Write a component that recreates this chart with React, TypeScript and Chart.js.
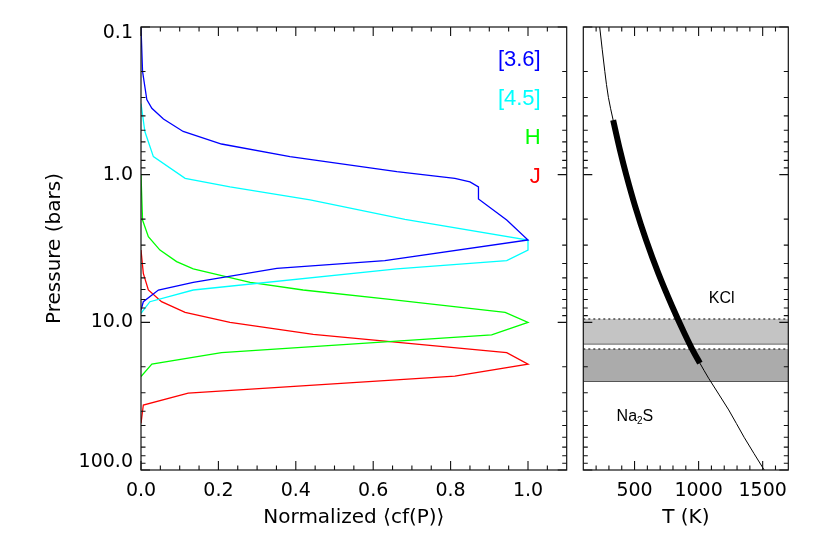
import React, { useEffect, useRef } from 'react';
import { Chart, registerables } from 'chart.js';

Chart.register(...registerables);

const AXIS_FONT = "'DejaVu Sans', Verdana, sans-serif";
const LABEL_FONT = "'Liberation Sans', Arial, Helvetica, sans-serif";

// ---------- Left panel: normalized contribution functions ----------
const bandNames = ['[3.6]', '[4.5]', 'H', 'J'];
const bandColors = ['#0000ff', '#00ffff', '#00ff00', '#ff0000'];

const pressure36 = [0.1, 0.2, 0.31, 0.355, 0.42, 0.51, 0.62, 0.755, 0.955, 1.06, 1.12, 1.21, 1.46, 2.03, 2.77, 3.82, 4.31, 5.36, 6.04, 7.25, 8.25];
const cf36 = [0.0, 0.004, 0.015, 0.028, 0.058, 0.109, 0.208, 0.385, 0.661, 0.811, 0.85, 0.872, 0.872, 0.945, 1.0, 0.63, 0.351, 0.135, 0.045, 0.006, 0.0];

const pressure45 = [0.33, 0.51, 0.755, 1.06, 1.21, 1.48, 2.01, 2.77, 3.24, 3.82, 4.35, 6.04, 7.25, 8.69];
const cf45 = [0.0, 0.01, 0.032, 0.114, 0.23, 0.437, 0.682, 1.0, 1.0, 0.945, 0.661, 0.135, 0.023, 0.0];

const pressureH = [1.0, 2.03, 2.63, 3.24, 3.88, 4.35, 5.36, 6.04, 6.98, 8.55, 10.0, 12.18, 16.06, 19.2, 23.3];
const cfH = [0.0, 0.004, 0.019, 0.049, 0.092, 0.135, 0.282, 0.419, 0.643, 0.941, 1.0, 0.906, 0.208, 0.028, 0.0];

const pressureJ = [3.24, 4.66, 6.04, 7.25, 8.55, 10.0, 12.05, 16.06, 19.2, 23.1, 30.2, 36.3, 48.3];
const cfJ = [0.0, 0.006, 0.019, 0.053, 0.114, 0.23, 0.445, 0.945, 1.0, 0.811, 0.122, 0.006, 0.0];

const bandPressures = [pressure36, pressure45, pressureH, pressureJ];
const bandCf = [cf36, cf45, cfH, cfJ];

// ---------- Right panel: T-P profile and clouds ----------
const profilePressure = [0.1, 0.2, 0.3, 0.427, 0.68, 1.0, 1.65, 2.77, 4.66, 7.84, 11.9, 15.8, 18.9, 23.9, 39.2, 60, 100];
const profileTemperature = [228, 268, 296, 333, 386, 435, 506, 590, 686, 795, 890, 960, 1010, 1078, 1235, 1355, 1512];
const photosphereRange = [0.427, 18.9];

const cloudNames = ['KCl', 'Na2S'];
const cloudTopPressure = [9.49, 15.15];
const cloudBasePressure = [13.95, 25.1];
const cloudFills = ['#c4c4c4', '#ababab'];
const cloudLabelTemperature = [1180, 503];
const cloudLabelPressure = [6.95, 43.5];

// ---------- Axes ----------
const cfRange = [0, 1.1];
const pressureRange = [0.1, 100];
const temperatureRange = [100, 1700];
const cfMajorTicks = [0, 0.2, 0.4, 0.6, 0.8, 1.0];
const cfMinorTicks = [0.05, 0.1, 0.15, 0.25, 0.3, 0.35, 0.45, 0.5, 0.55, 0.65, 0.7, 0.75, 0.85, 0.9, 0.95, 1.05];
const pressureMajorTicks = [0.1, 1, 10, 100];
const pressureTickLabels = ['0.1', '1.0', '10.0', '100.0'];
const pressureMinorTicks = [0.2, 0.3, 0.4, 0.5, 0.6, 0.7, 0.8, 0.9, 2, 3, 4, 5, 6, 7, 8, 9, 20, 30, 40, 50, 60, 70, 80, 90];
const temperatureMajorTicks = [500, 1000, 1500];
const temperatureMinorTicks = [200, 300, 400, 600, 700, 800, 900, 1100, 1200, 1300, 1400, 1600];

function makeFrameTicks(xMajor: number[], xMinor: number[], yMajor: number[], yMinor: number[]) {
  return {
    id: 'frameTicks',
    afterDatasetsDraw(chart: any) {
      const { ctx, chartArea: a, scales } = chart;
      const xs = scales.x;
      const ys = scales.y;
      ctx.save();
      ctx.strokeStyle = '#111';
      ctx.lineWidth = 1.1;
      ctx.beginPath();
      const xTick = (v: number, len: number) => {
        const px = xs.getPixelForValue(v);
        ctx.moveTo(px, a.bottom);
        ctx.lineTo(px, a.bottom - len);
        ctx.moveTo(px, a.top);
        ctx.lineTo(px, a.top + len);
      };
      const yTick = (v: number, len: number) => {
        const py = ys.getPixelForValue(v);
        ctx.moveTo(a.left, py);
        ctx.lineTo(a.left + len, py);
        ctx.moveTo(a.right, py);
        ctx.lineTo(a.right - len, py);
      };
      xMajor.forEach((v) => xTick(v, 9));
      xMinor.forEach((v) => xTick(v, 4.5));
      yMajor.forEach((v) => yTick(v, 9));
      yMinor.forEach((v) => yTick(v, 4.5));
      ctx.stroke();
      ctx.lineWidth = 1.2;
      ctx.strokeRect(a.left, a.top, a.right - a.left, a.bottom - a.top);
      ctx.restore();
    },
  };
}

// y tick labels, kept inside the axis span at both ends (IDL style)
const pressureLabels = {
  id: 'pressureLabels',
  afterDraw(chart: any) {
    const { ctx, chartArea: a, scales } = chart;
    ctx.save();
    ctx.font = `19px ${AXIS_FONT}`;
    ctx.fillStyle = '#000';
    ctx.textAlign = 'right';
    ctx.textBaseline = 'middle';
    pressureMajorTicks.forEach((v, i) => {
      const py = scales.y.getPixelForValue(v);
      const y = Math.min(Math.max(py, a.top + 6), a.bottom - 8);
      ctx.fillText(pressureTickLabels[i], a.left - 8, y);
    });
    ctx.restore();
  },
};

const bandLegend = {
  id: 'bandLegend',
  afterDatasetsDraw(chart: any) {
    const { ctx, chartArea: a } = chart;
    ctx.save();
    ctx.font = `22px ${LABEL_FONT}`;
    ctx.textAlign = 'right';
    ctx.textBaseline = 'middle';
    bandNames.forEach((name, i) => {
      ctx.fillStyle = bandColors[i];
      ctx.fillText(name, a.right - 26, a.top + 33 + i * 39);
    });
    ctx.restore();
  },
};

function drawChemLabel(ctx: CanvasRenderingContext2D, text: string, cx: number, cy: number, size: number) {
  const parts = text.match(/\d+|\D+/g) || [];
  const isSub = (s: string) => /^\d+$/.test(s);
  const fontFor = (s: string) => `${isSub(s) ? Math.round(size * 0.62) : size}px ${LABEL_FONT}`;
  let total = 0;
  const widths = parts.map((p) => {
    ctx.font = fontFor(p);
    const w = ctx.measureText(p).width;
    total += w;
    return w;
  });
  let x = cx - total / 2;
  parts.forEach((p, i) => {
    ctx.font = fontFor(p);
    ctx.fillText(p, x, cy + (isSub(p) ? size * 0.3 : 0));
    x += widths[i];
  });
}

const cloudLabels = {
  id: 'cloudLabels',
  afterDatasetsDraw(chart: any) {
    const { ctx, scales } = chart;
    ctx.save();
    ctx.fillStyle = '#000';
    ctx.textAlign = 'left';
    ctx.textBaseline = 'middle';
    cloudNames.forEach((name, i) => {
      const px = scales.x.getPixelForValue(cloudLabelTemperature[i]);
      const py = scales.y.getPixelForValue(cloudLabelPressure[i]);
      drawChemLabel(ctx, name, px, py, 16);
    });
    ctx.restore();
  },
};

const tickFont = { family: AXIS_FONT, size: 19 };
const titleFont = { family: AXIS_FONT, size: 20 };

export default function App() {
  const leftRef = useRef<HTMLCanvasElement>(null);
  const rightRef = useRef<HTMLCanvasElement>(null);

  useEffect(() => {
    const leftDatasets = bandNames.map((name, i) => ({
      label: name,
      data: bandPressures[i].map((p, k) => ({ x: bandCf[i][k], y: p })),
      borderColor: bandColors[i],
      borderWidth: 1.3,
      pointRadius: 0,
      tension: 0,
      fill: false,
    }));

    const left = new Chart(leftRef.current as HTMLCanvasElement, {
      type: 'line',
      data: { datasets: leftDatasets as any },
      options: {
        responsive: false,
        animation: false,
        devicePixelRatio: 1,
        events: [],
        layout: { padding: { left: 0, right: 8.3, top: 27, bottom: 0 } },
        plugins: { legend: { display: false }, tooltip: { enabled: false } },
        scales: {
          x: {
            type: 'linear',
            min: cfRange[0],
            max: cfRange[1],
            grid: { display: false, drawTicks: false },
            border: { display: false },
            afterBuildTicks: (s: any) => {
              s.ticks = cfMajorTicks.map((v) => ({ value: v }));
            },
            ticks: {
              font: tickFont,
              color: '#000',
              padding: 10,
              maxRotation: 0,
              minRotation: 0,
              autoSkip: false,
              callback: (v: any) => Number(v).toFixed(1),
            },
            title: {
              display: true,
              text: 'Normalized \u27E8cf(P)\u27E9',
              font: titleFont,
              color: '#000',
              padding: { top: 0, bottom: 24 },
            },
            afterFit: (s: any) => {
              s.height = 84;
            },
          },
          y: {
            type: 'logarithmic',
            min: pressureRange[0],
            max: pressureRange[1],
            reverse: true,
            grid: { display: false, drawTicks: false },
            border: { display: false },
            ticks: { display: false },
            title: {
              display: true,
              text: 'Pressure (bars)',
              font: titleFont,
              color: '#000',
              padding: { top: 43, bottom: 0 },
            },
            afterFit: (s: any) => {
              s.width = 141;
            },
          },
        },
      } as any,
      plugins: [makeFrameTicks(cfMajorTicks, cfMinorTicks, pressureMajorTicks, pressureMinorTicks), bandLegend, pressureLabels],
    });

    const profilePoints = profilePressure.map((p, i) => ({ x: profileTemperature[i], y: p }));
    const thickPoints = profilePoints.filter((pt) => pt.y >= photosphereRange[0] && pt.y <= photosphereRange[1]);
    const cloudDatasets: any[] = [];
    cloudNames.forEach((name, i) => {
      cloudDatasets.push({
        label: name + ' top',
        data: [
          { x: temperatureRange[0], y: cloudTopPressure[i] },
          { x: temperatureRange[1], y: cloudTopPressure[i] },
        ],
        borderColor: '#000',
        borderWidth: 1,
        borderDash: [2, 3],
        pointRadius: 0,
        fill: '+1',
        backgroundColor: cloudFills[i],
      });
      cloudDatasets.push({
        label: name + ' base',
        data: [
          { x: temperatureRange[0], y: cloudBasePressure[i] },
          { x: temperatureRange[1], y: cloudBasePressure[i] },
        ],
        borderColor: '#3a3a3a',
        borderWidth: 1.5,
        pointRadius: 0,
        fill: false,
      });
    });

    const right = new Chart(rightRef.current as HTMLCanvasElement, {
      type: 'line',
      data: {
        datasets: [
          {
            label: 'photosphere',
            data: thickPoints,
            indexAxis: 'y',
            borderColor: '#000',
            borderWidth: 6,
            borderCapStyle: 'butt',
            pointRadius: 0,
            cubicInterpolationMode: 'monotone',
            fill: false,
          },
          {
            label: 'profile',
            data: profilePoints,
            indexAxis: 'y',
            borderColor: '#000',
            borderWidth: 1,
            pointRadius: 0,
            cubicInterpolationMode: 'monotone',
            fill: false,
          },
          ...cloudDatasets,
        ] as any,
      },
      options: {
        responsive: false,
        animation: false,
        devicePixelRatio: 1,
        events: [],
        layout: { padding: { left: 0, right: 41.7, top: 27, bottom: 0 } },
        plugins: { legend: { display: false }, tooltip: { enabled: false } },
        scales: {
          x: {
            type: 'linear',
            min: temperatureRange[0],
            max: temperatureRange[1],
            grid: { display: false, drawTicks: false },
            border: { display: false },
            afterBuildTicks: (s: any) => {
              s.ticks = temperatureMajorTicks.map((v) => ({ value: v }));
            },
            ticks: {
              font: tickFont,
              color: '#000',
              padding: 10,
              maxRotation: 0,
              minRotation: 0,
              autoSkip: false,
              callback: (v: any) => String(v),
            },
            title: {
              display: true,
              text: 'T (K)',
              font: titleFont,
              color: '#000',
              padding: { top: 0, bottom: 24 },
            },
            afterFit: (s: any) => {
              s.height = 84;
            },
          },
          y: {
            type: 'logarithmic',
            min: pressureRange[0],
            max: pressureRange[1],
            reverse: true,
            grid: { display: false, drawTicks: false },
            border: { display: false },
            ticks: { display: false },
            afterFit: (s: any) => {
              s.width = 8.3;
            },
          },
        },
      } as any,
      plugins: [makeFrameTicks(temperatureMajorTicks, temperatureMinorTicks, pressureMajorTicks, pressureMinorTicks), cloudLabels],
    });

    return () => {
      left.destroy();
      right.destroy();
    };
  }, []);

  return (
    <div style={{ position: 'absolute', left: 0, top: 0, width: 830, height: 554, background: '#fff' }}>
      <canvas
        ref={leftRef}
        width={575}
        height={554}
        style={{ position: 'absolute', left: 0, top: 0, width: 575, height: 554 }}
      />
      <canvas
        ref={rightRef}
        width={255}
        height={554}
        style={{ position: 'absolute', left: 575, top: 0, width: 255, height: 554 }}
      />
    </div>
  );
}
